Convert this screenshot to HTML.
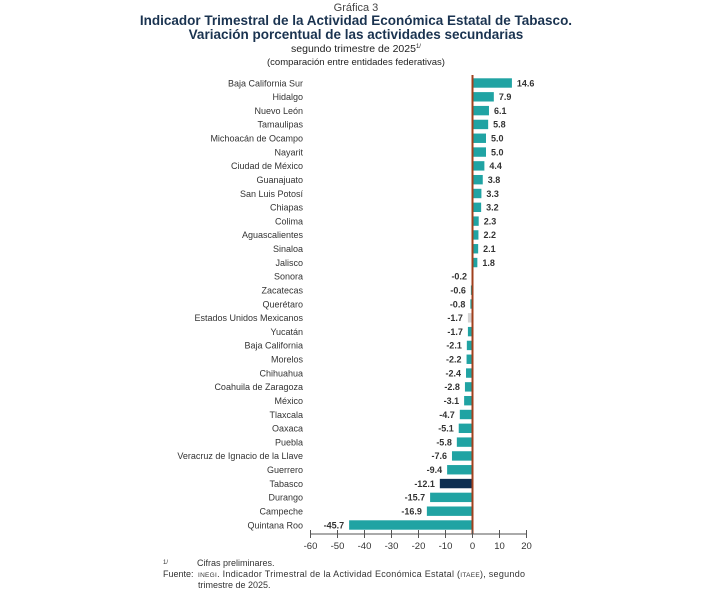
<!DOCTYPE html>
<html><head><meta charset="utf-8"><style>
body{margin:0;background:#fff;}
svg{display:block;font-family:"Liberation Sans",Arial,sans-serif;}
</style></head><body>
<svg width="705" height="600" xmlns="http://www.w3.org/2000/svg">
<rect width="705" height="600" fill="#fff"/>
<text x="356" y="11" font-size="11" fill="#444" text-anchor="middle">Gráfica 3</text>
<text x="356" y="25" font-size="13.5" font-weight="bold" fill="#1a3350" text-anchor="middle">Indicador Trimestral de la Actividad Económica Estatal de Tabasco.</text>
<text x="356" y="39" font-size="13.5" font-weight="bold" fill="#1a3350" text-anchor="middle">Variación porcentual de las actividades secundarias</text>
<text x="356" y="52" font-size="10.5" fill="#222" text-anchor="middle">segundo trimestre de 2025<tspan font-size="6" dy="-4">1/</tspan></text>
<text x="356" y="65" font-size="9.5" fill="#222" text-anchor="middle">(comparación entre entidades federativas)</text>
<g id="bars" font-size="9"></g>
<line x1="472.5" y1="75" x2="472.5" y2="534" stroke="#a0401e" stroke-width="2"/>
<g stroke="#555" stroke-width="1">
<line x1="310" y1="534" x2="527" y2="534"/>
</g>
<g id="ticks" font-size="9.5" fill="#333" text-anchor="middle"></g>
<text x="163" y="564" font-size="6" fill="#333">1/</text>
<text x="197" y="566" font-size="9" fill="#333">Cifras preliminares.</text>
<text x="163" y="577" font-size="9" fill="#333">Fuente:</text>
<text x="198" y="577" font-size="9" fill="#333" textLength="327" lengthAdjust="spacing"><tspan font-size="6.5">INEGI</tspan>. Indicador Trimestral de la Actividad Económica Estatal (<tspan font-size="6.5">ITAEE</tspan>), segundo</text>
<text x="198" y="588" font-size="9" fill="#333">trimestre de 2025.</text>
<script>
var d=[["Baja California Sur",14.6],["Hidalgo",7.9],["Nuevo León",6.1],["Tamaulipas",5.8],["Michoacán de Ocampo",5.0],["Nayarit",5.0],["Ciudad de México",4.4],["Guanajuato",3.8],["San Luis Potosí",3.3],["Chiapas",3.2],["Colima",2.3],["Aguascalientes",2.2],["Sinaloa",2.1],["Jalisco",1.8],["Sonora",-0.2],["Zacatecas",-0.6],["Querétaro",-0.8],["Estados Unidos Mexicanos",-1.7],["Yucatán",-1.7],["Baja California",-2.1],["Morelos",-2.2],["Chihuahua",-2.4],["Coahuila de Zaragoza",-2.8],["México",-3.1],["Tlaxcala",-4.7],["Oaxaca",-5.1],["Puebla",-5.8],["Veracruz de Ignacio de la Llave",-7.6],["Guerrero",-9.4],["Tabasco",-12.1],["Durango",-15.7],["Campeche",-16.9],["Quintana Roo",-45.7]];
var ns="http://www.w3.org/2000/svg",g=document.getElementById("bars"),z=472.5,k=2.7;
function el(t,a,s){var e=document.createElementNS(ns,t);for(var i in a)e.setAttribute(i,a[i]);if(s!=null)e.textContent=s;g.appendChild(e);return e;}
var step=(525-83)/32;
d.forEach(function(r,i){var y=83+i*step,v=r[1],w=Math.abs(v)*k;
var x=v>=0?z:z-w;
var c=r[0]=="Tabasco"?"#0d2f52":(r[0]=="Estados Unidos Mexicanos"?"#d4d4d4":"#20a3a3");
el("rect",{x:x,y:y-4.7,width:w,height:9.4,fill:c});
el("text",{x:303,y:y+3.3,"text-anchor":"end",fill:"#333"},r[0]);
if(v>=0)el("text",{x:z+w+5,y:y+3.3,fill:"#333","font-weight":"bold"},v.toFixed(1));
else el("text",{x:z-w-5,y:y+3.3,fill:"#333","font-weight":"bold","text-anchor":"end"},v.toFixed(1));
});
var t=document.getElementById("ticks");
for(var v=-60;v<=20;v+=10){var x=z+v*k;
var l=document.createElementNS(ns,"line");l.setAttribute("x1",x);l.setAttribute("x2",x);l.setAttribute("y1",530);l.setAttribute("y2",538);l.setAttribute("stroke","#555");t.appendChild(l);
var s=document.createElementNS(ns,"text");s.setAttribute("x",x);s.setAttribute("y",549);s.textContent=v;t.appendChild(s);}
</script>
</svg>
</body></html>
